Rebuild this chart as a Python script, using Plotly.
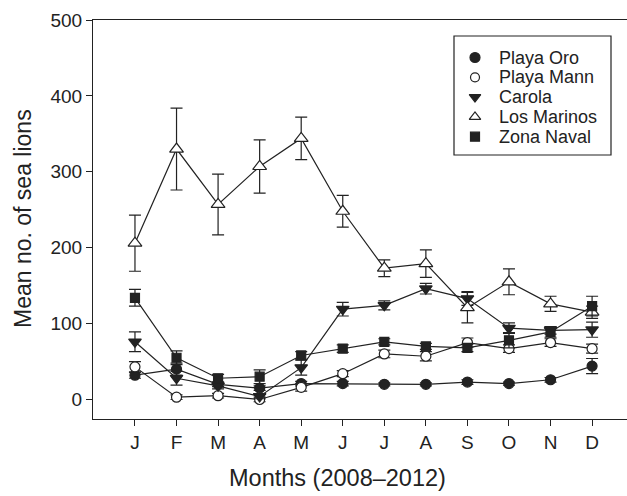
import plotly.graph_objects as go

months = ["J", "F", "M", "A", "M", "J", "J", "A", "S", "O", "N", "D"]
month_idx = list(range(1, 13))

series_names = ["Playa Oro", "Playa Mann", "Carola", "Los Marinos", "Zona Naval"]

playa_oro = [32, 40, 20, 15, 21, 21, 20, 20, 23, 21, 26, 44]
playa_oro_err = [4, 8, 3, 3, 3, 3, 2, 2, 3, 2, 3, 10]
playa_mann = [43, 3, 5, 0, 16, 34, 60, 57, 75, 67, 75, 67]
playa_mann_err = [7, 3, 3, 3, 5, 4, 5, 6, 6, 5, 5, 6]
carola = [76, 28, 18, 4, 42, 119, 124, 146, 133, 94, 91, 92]
carola_err = [13, 9, 4, 3, 10, 9, 6, 7, 9, 7, 5, 10]
los_marinos = [206, 330, 257, 307, 344, 248, 173, 179, 121, 155, 126, 115]
los_marinos_err = [37, 54, 40, 35, 28, 21, 11, 18, 20, 17, 10, 8]
zona_naval = [134, 55, 28, 30, 58, 67, 76, 70, 68, 78, 89, 123]
zona_naval_err = [11, 9, 5, 9, 5, 5, 4, 4, 5, 10, 7, 13]

INK = "#222222"
FONT = "Liberation Sans, Arial, Helvetica, sans-serif"

values = [playa_oro, playa_mann, carola, los_marinos, zona_naval]
errors = [playa_oro_err, playa_mann_err, carola_err, los_marinos_err, zona_naval_err]
symbols = ["circle", "circle", "triangle-down", "triangle-up", "square"]
fills = [INK, "white", INK, "white", INK]
sizes = [10, 10, 11, 12, 9]
legend_sizes = [10, 9, 10, 10, 9]

# figure frame in pixels (layout only)
W, H = 627, 496
L, R, T, B = 93, 0, 20, 77
plot_bottom = H - B
PW, PH = W - L - R, plot_bottom - T


def px_to_paper(px, py):
    return (px - L) / PW, (plot_bottom - py) / PH


fig = go.Figure()

for name, vals, errs, sym, fill, size in zip(series_names, values, errors, symbols, fills, sizes):
    fig.add_trace(go.Scatter(
        x=month_idx, y=vals, mode="lines+markers", name=name, showlegend=False,
        line=dict(color=INK, width=1.2),
        marker=dict(symbol=sym, size=size, color=fill, line=dict(color=INK, width=1.2)),
        error_y=dict(type="data", array=errs, visible=True, color=INK, thickness=1.2, width=6),
    ))

# manual legend drawn on a pixel-frame overlay axis
leg_x0, leg_x1, leg_y0, leg_y1 = 454, 611, 36, 155
leg_sym_x, leg_text_x, leg_row0, leg_step = 475, 497, 57.5, 19.8
rows = [leg_row0 + i * leg_step for i in range(len(series_names))]

for name, sym, fill, size, ry in zip(series_names, symbols, fills, legend_sizes, rows):
    fig.add_trace(go.Scatter(
        x=[leg_sym_x], y=[ry], xaxis="x2", yaxis="y2", mode="markers",
        showlegend=False, hoverinfo="skip",
        marker=dict(symbol=sym, size=size, color=fill, line=dict(color=INK, width=1.2)),
    ))

annotations = []
for name, ry in zip(series_names, rows):
    annotations.append(dict(
        x=leg_text_x, y=ry, xref="x2", yref="y2", text=name, showarrow=False,
        xanchor="left", yanchor="middle", font=dict(size=18, color=INK, family=FONT),
    ))

xt_x, xt_y = px_to_paper(337, 478)
annotations.append(dict(
    x=xt_x, y=xt_y, xref="paper", yref="paper", text="Months (2008–2012)", showarrow=False,
    xanchor="center", yanchor="middle", font=dict(size=23.5, color=INK, family=FONT),
))
yt_x, yt_y = px_to_paper(23, 219)
annotations.append(dict(
    x=yt_x, y=yt_y, xref="paper", yref="paper", text="Mean no. of sea lions", showarrow=False,
    textangle=-90, xanchor="center", yanchor="middle",
    font=dict(size=23, color=INK, family=FONT),
))

fig.update_layout(
    width=W, height=H,
    margin=dict(l=L, r=R, t=T, b=B),
    paper_bgcolor="white", plot_bgcolor="white",
    font=dict(family=FONT, color=INK, size=19),
    showlegend=False,
    annotations=annotations,
    shapes=[dict(type="rect", xref="x2", yref="y2", x0=leg_x0, x1=leg_x1, y0=leg_y0, y1=leg_y1,
                 line=dict(color=INK, width=1.2), fillcolor="rgba(0,0,0,0)", layer="above")],
    xaxis=dict(
        range=[-0.01, 12.84], tickmode="array", tickvals=month_idx, ticktext=months,
        showline=True, linecolor=INK, linewidth=1.2, mirror=True,
        ticks="outside", ticklen=6, tickcolor=INK, tickwidth=1.2,
        showgrid=False, zeroline=False,
    ),
    yaxis=dict(
        range=[-25.7, 500], tickvals=[0, 100, 200, 300, 400, 500],
        showline=True, linecolor=INK, linewidth=1.2, mirror=False,
        ticks="outside", ticklen=6, tickcolor=INK, tickwidth=1.2,
        showgrid=False, zeroline=False,
    ),
    xaxis2=dict(range=[L, W - R], overlaying="x", anchor="y2", visible=False, fixedrange=True),
    yaxis2=dict(range=[plot_bottom, T], overlaying="y", anchor="x2", visible=False, fixedrange=True),
)

fig.write_html("out.html")
